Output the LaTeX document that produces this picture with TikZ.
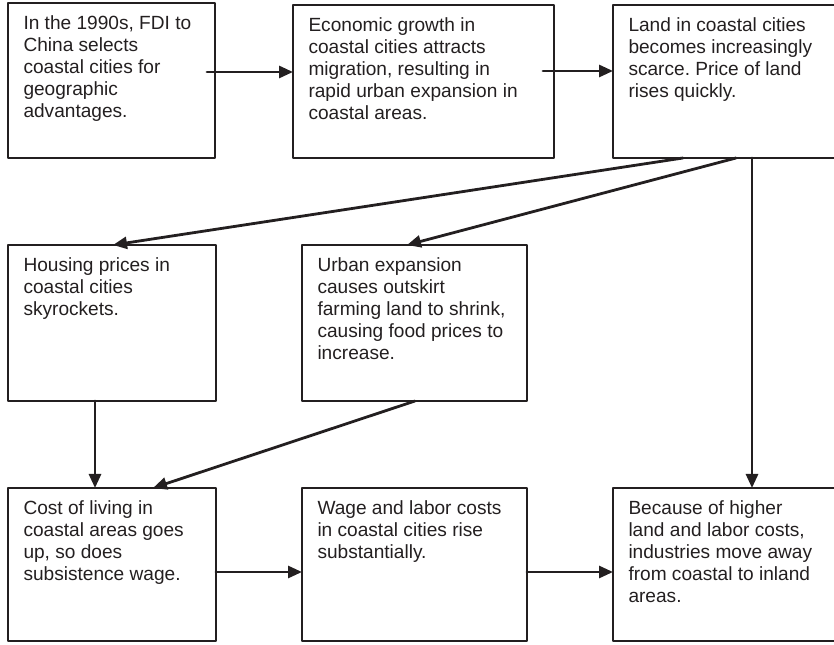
\documentclass[tikz,border=0pt]{standalone}
\usepackage{fontspec}
\setmainfont{Liberation Sans}
\usetikzlibrary{arrows.meta}
\definecolor{ink}{RGB}{35,31,32}
\frenchspacing
\newcommand{\boxtext}[3]{\parbox[t][#2][t]{#1}{\raggedright #3}}

\begin{document}
\begin{tikzpicture}[x=1bp, y=1bp, line cap=round, line join=round, >={Triangle[length=14bp,width=12bp]},
  stage/.style={draw=ink, line width=1.3bp, text=ink, anchor=north west, outer sep=0pt,
    inner xsep=15.5bp, inner ysep=13bp, font=\fontsize{19.1bp}{21.9bp}\selectfont},
  link/.style={->, draw=ink, line width=2.8bp}]

\useasboundingbox (0,0) rectangle (834,645);

\node[stage] (fdi) at (8,642) {\boxtext{176bp}{129bp}{In the 1990s, FDI to\\ China selects\\ coastal cities for\\ geographic\\ advantages.}};
\node[stage] (growth) at (293,640) {\boxtext{230bp}{127bp}{Economic growth in\\ coastal cities attracts\\ migration, resulting in\\ rapid urban expansion in\\ coastal areas.}};
\node[stage] (land) at (613,640) {\boxtext{192bp}{127bp}{Land in coastal cities\\ becomes increasingly\\ scarce. Price of land\\ rises quickly.}};

\node[stage] (housing) at (8,400) {\boxtext{177bp}{130bp}{Housing prices in\\ coastal cities\\ skyrockets.}};
\node[stage] (farm) at (302,400) {\boxtext{194bp}{130bp}{Urban expansion\\ causes outskirt\\ farming land to shrink,\\ causing food prices to\\ increase.}};

\node[stage] (living) at (8,157) {\boxtext{177bp}{127bp}{Cost of living in\\ coastal areas goes\\ up, so does\\ subsistence wage.}};
\node[stage] (wage) at (302,157) {\boxtext{194bp}{127bp}{Wage and labor costs\\ in coastal cities rise\\ substantially.}};
\node[stage] (move) at (613,157) {\boxtext{192bp}{127bp}{Because of higher\\ land and labor costs,\\ industries move away\\ from coastal to inland\\ areas.}};

\draw[link] ([shift={(-8,8.5)}]fdi.east) coordinate (a1) -- (a1 -| growth.west);
\draw[link] ([shift={(-11,10.5)}]growth.east) coordinate (a2) -- (a2 -| land.west);

\draw[link] ([xshift=70bp]land.south west) -- ([xshift=105bp]housing.north west);
\draw[link] ([xshift=123bp]land.south west) -- ([xshift=105bp]farm.north west);
\draw[link] ([xshift=139bp]land.south west) coordinate (a5) -- (a5 |- move.north);

\draw[link] ([xshift=87bp]housing.south west) coordinate (a6) -- (a6 |- living.north);
\draw[link] ([xshift=113bp]farm.south west) -- ([xshift=145bp]living.north west);

\draw[link] ([yshift=-7.5bp]living.east) coordinate (a8) -- (a8 -| wage.west);
\draw[link] ([yshift=-7.5bp]wage.east) coordinate (a9) -- (a9 -| move.west);

\end{tikzpicture}
\end{document}
